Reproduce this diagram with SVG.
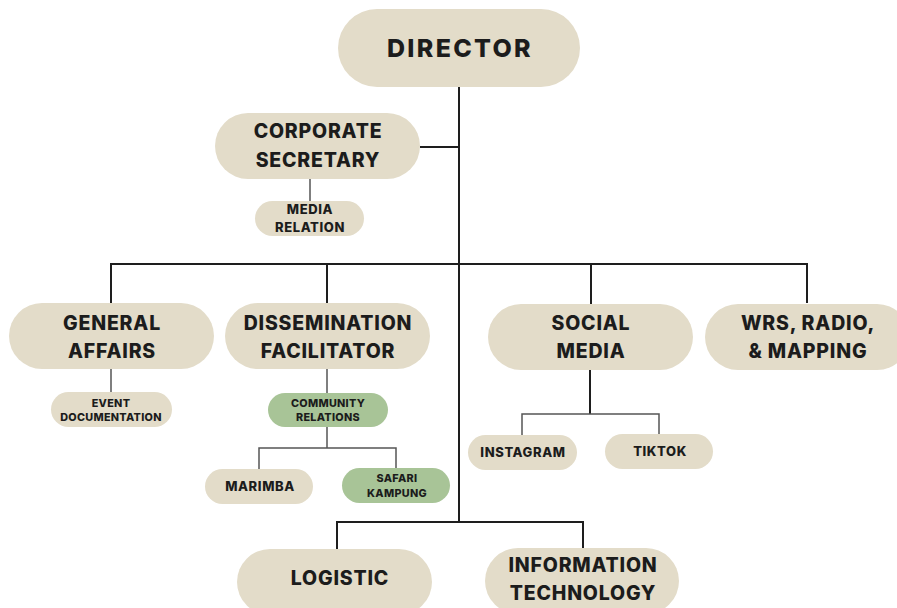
<svg xmlns="http://www.w3.org/2000/svg" width="897" height="608" viewBox="0 0 897 608">
  <style>
    .pill { fill: #e3dcc9; }
    .green { fill: #a8c497; }
    text { font-family: "Inter", "Open Sans", "Liberation Sans", sans-serif; font-weight: 800; fill: #1c1c1c; text-anchor: middle; }
    .t1 { font-size: 25px; letter-spacing: 2.3px; }
    .t2 { font-size: 19.5px; letter-spacing: 0.8px; }
    .t3 { font-size: 13px; letter-spacing: 0.6px; }
    .t4 { font-size: 10.8px; letter-spacing: 0.3px; }
    .main { stroke: #1e1e1e; stroke-width: 2; fill: none; }
    .sub { stroke: #555; stroke-width: 1.5; fill: none; }
  </style>
  <rect width="897" height="608" fill="#ffffff"/>

  <g id="connectors">
    <path class="main" d="M459 87 V522"/>
    <path class="main" d="M420 147 H459"/>
    <path class="main" d="M111 303 V264 H807 V303"/>
    <path class="main" d="M327 264 V303"/>
    <path class="main" d="M591 264 V304"/>
    <path class="main" d="M337 549 V522 H583 V548"/>
    <path class="main" d="M590 370 V414"/>
    <path class="sub" d="M522 435 V414 H659 V434"/>
    <path class="sub" d="M310 179 V201"/>
    <path class="sub" d="M111 369 V392"/>
    <path class="sub" d="M327 369 V393"/>
    <path class="sub" d="M327 427 V448"/>
    <path class="sub" d="M259 469 V448 H396 V468"/>
  </g>

  <g id="director">
    <rect class="pill" x="338" y="9" width="242" height="78" rx="39"/>
    <text class="t1" x="460" y="57">DIRECTOR</text>
  </g>

  <g id="corporate-secretary">
    <rect class="pill" x="215" y="113" width="205" height="66" rx="33"/>
    <text class="t2" x="318" y="138">CORPORATE</text>
    <text class="t2" x="318" y="167">SECRETARY</text>
  </g>

  <g id="media-relation">
    <rect class="pill" x="255" y="201" width="109" height="35" rx="17.5"/>
    <text class="t3" x="310" y="214">MEDIA</text>
    <text class="t3" x="310" y="232">RELATION</text>
  </g>

  <g id="general-affairs">
    <rect class="pill" x="9" y="303" width="205" height="66" rx="33"/>
    <text class="t2" x="112" y="330">GENERAL</text>
    <text class="t2" x="112" y="358">AFFAIRS</text>
  </g>

  <g id="event-documentation">
    <rect class="pill" x="51" y="392" width="121" height="35" rx="17.5"/>
    <text class="t4" x="111" y="407">EVENT</text>
    <text class="t4" x="111" y="421">DOCUMENTATION</text>
  </g>

  <g id="dissemination-facilitator">
    <rect class="pill" x="225" y="303" width="205" height="66" rx="33"/>
    <text class="t2" x="328" y="330">DISSEMINATION</text>
    <text class="t2" x="328" y="358">FACILITATOR</text>
  </g>

  <g id="community-relations">
    <rect class="green" x="268" y="393" width="120" height="34" rx="17"/>
    <text class="t4" x="328" y="407">COMMUNITY</text>
    <text class="t4" x="328" y="421">RELATIONS</text>
  </g>

  <g id="marimba">
    <rect class="pill" x="205" y="469" width="108" height="35" rx="17.5"/>
    <text class="t3" x="260" y="491">MARIMBA</text>
  </g>

  <g id="safari-kampung">
    <rect class="green" x="342" y="468" width="108" height="35" rx="17.5"/>
    <text class="t4" x="397" y="482">SAFARI</text>
    <text class="t4" x="397" y="497">KAMPUNG</text>
  </g>

  <g id="social-media">
    <rect class="pill" x="488" y="304" width="205" height="66" rx="33"/>
    <text class="t2" x="591" y="330">SOCIAL</text>
    <text class="t2" x="591" y="358">MEDIA</text>
  </g>

  <g id="instagram">
    <rect class="pill" x="468" y="435" width="109" height="35" rx="17.5"/>
    <text class="t3" x="523" y="457">INSTAGRAM</text>
  </g>

  <g id="tiktok">
    <rect class="pill" x="605" y="434" width="108" height="35" rx="17.5"/>
    <text class="t3" x="660" y="456">TIKTOK</text>
  </g>

  <g id="wrs-radio-mapping">
    <rect class="pill" x="705" y="304" width="205" height="66" rx="33"/>
    <text class="t2" x="808" y="330">WRS, RADIO,</text>
    <text class="t2" x="808" y="358">&amp; MAPPING</text>
  </g>

  <g id="logistic">
    <rect class="pill" x="237" y="549" width="195" height="66" rx="33"/>
    <text class="t2" x="340" y="585">LOGISTIC</text>
  </g>

  <g id="information-technology">
    <rect class="pill" x="485" y="548" width="194" height="66" rx="33"/>
    <text class="t2" x="583" y="572">INFORMATION</text>
    <text class="t2" x="583" y="600">TECHNOLOGY</text>
  </g>
</svg>
